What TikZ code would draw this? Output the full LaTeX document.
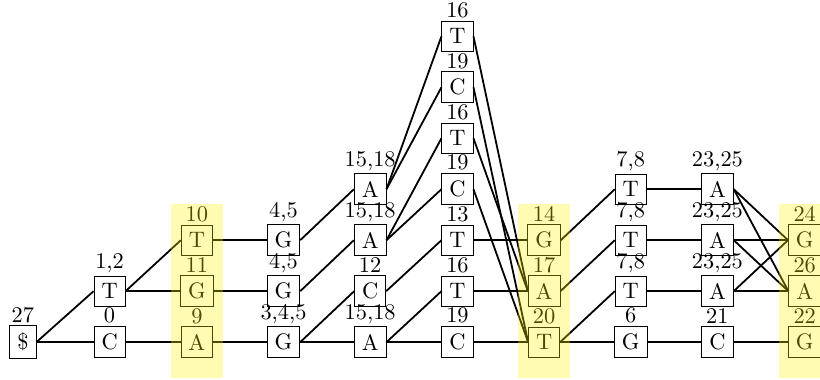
\documentclass[tikz,border=0pt]{standalone}
\usetikzlibrary{positioning}
\tikzset{
  chr/.style={draw, rectangle},
  edge/.style={thick},
  band/.style={fill=yellow, opacity=0.3},
  every label/.style={inner sep=1pt, label distance=0pt}
}
\begin{document}
\begin{tikzpicture}
            \useasboundingbox (-0.36,-0.58) rectangle (12.51,5.37);
            % column 0 and 1
            \node[chr, label=above:27] (a0) at (0,0) {\$};
            \node[chr, label=above:0] (b0) at (1.36,0) {C};
            \node[chr, label=above:{1,2}] (b1) at (1.36,0.8) {T};
            % column 2
            \node[chr, label=above:9] (c0) at (2.73,0) {A};
            \node[chr, label=above:11] (c1) at (2.73,0.8) {G};
            \node[chr, label=above:10] (c2) at (2.73,1.6) {T};
            % column 3
            \node[chr, label=above:{3,4,5}] (d0) at (4.09,0) {G};
            \node[chr, label=above:{4,5}] (d1) at (4.09,0.8) {G};
            \node[chr, label=above:{4,5}] (d2) at (4.09,1.6) {G};
            % column 4
            \node[chr, label=above:{15,18}] (e0) at (5.45,0) {A};
            \node[chr, label=above:12] (e1) at (5.45,0.8) {C};
            \node[chr, label=above:{15,18}] (e2) at (5.45,1.6) {A};
            \node[chr, label=above:{15,18}] (e3) at (5.45,2.4) {A};
            % column 5
            \node[chr, label=above:19] (f0) at (6.82,0) {C};
            \node[chr, label=above:16] (f1) at (6.82,0.8) {T};
            \node[chr, label=above:13] (f2) at (6.82,1.6) {T};
            \node[chr, label=above:19] (f3) at (6.82,2.4) {C};
            \node[chr, label=above:16] (f4) at (6.82,3.2) {T};
            \node[chr, label=above:19] (f5) at (6.82,4.0) {C};
            \node[chr, label=above:16] (f6) at (6.82,4.8) {T};
            % column 6
            \node[chr, label=above:20] (g0) at (8.18,0) {T};
            \node[chr, label=above:17] (g1) at (8.18,0.8) {A};
            \node[chr, label=above:14] (g2) at (8.18,1.6) {G};
            % column 7
            \node[chr, label=above:6] (h0) at (9.54,0) {G};
            \node[chr, label=above:{7,8}] (h1) at (9.54,0.8) {T};
            \node[chr, label=above:{7,8}] (h2) at (9.54,1.6) {T};
            \node[chr, label=above:{7,8}] (h3) at (9.54,2.4) {T};
            % column 8
            \node[chr, label=above:21] (i0) at (10.9,0) {C};
            \node[chr, label=above:{23,25}] (i1) at (10.9,0.8) {A};
            \node[chr, label=above:{23,25}] (i2) at (10.9,1.6) {A};
            \node[chr, label=above:{23,25}] (i3) at (10.9,2.4) {A};
            % column 9
            \node[chr, label=above:22] (j0) at (12.27,0) {G};
            \node[chr, label=above:26] (j1) at (12.27,0.8) {A};
            \node[chr, label=above:24] (j2) at (12.27,1.6) {G};
            % edges
            \draw[edge] (a0.east) -- (b0.west);
            \draw[edge] (a0.east) -- (b1.west);
            \draw[edge] (b0.east) -- (c0.west);
            \draw[edge] (b1.east) -- (c1.west);
            \draw[edge] (b1.east) -- (c2.west);
            \draw[edge] (c0.east) -- (d0.west);
            \draw[edge] (c1.east) -- (d1.west);
            \draw[edge] (c2.east) -- (d2.west);
            \draw[edge] (d0.east) -- (e0.west);
            \draw[edge] (d0.east) -- (e1.west);
            \draw[edge] (d1.east) -- (e2.west);
            \draw[edge] (d2.east) -- (e3.west);
            \draw[edge] (e0.east) -- (f0.west);
            \draw[edge] (e0.east) -- (f1.west);
            \draw[edge] (e1.east) -- (f2.west);
            \draw[edge] (e2.east) -- (f3.west);
            \draw[edge] (e2.east) -- (f4.west);
            \draw[edge] (e3.east) -- (f5.west);
            \draw[edge] (e3.east) -- (f6.west);
            \draw[edge] (f0.east) -- (g0.west);
            \draw[edge] (f1.east) -- (g1.west);
            \draw[edge] (f2.east) -- (g2.west);
            \draw[edge] (f3.east) -- (g0.west);
            \draw[edge] (f4.east) -- (g1.west);
            \draw[edge] (f5.east) -- (g0.west);
            \draw[edge] (f6.east) -- (g1.west);
            \draw[edge] (g0.east) -- (h0.west);
            \draw[edge] (g0.east) -- (h1.west);
            \draw[edge] (g1.east) -- (h2.west);
            \draw[edge] (g2.east) -- (h3.west);
            \draw[edge] (h0.east) -- (i0.west);
            \draw[edge] (h1.east) -- (i1.west);
            \draw[edge] (h2.east) -- (i2.west);
            \draw[edge] (h3.east) -- (i3.west);
            \draw[edge] (i0.east) -- (j0.west);
            \draw[edge] (i1.east) -- (j1.west);
            \draw[edge] (i1.east) -- (j2.west);
            \draw[edge] (i2.east) -- (j2.west);
            \draw[edge] (i2.east) -- (j1.west);
            \draw[edge] (i3.east) -- (j2.west);
            \draw[edge] (i3.east) -- (j1.west);
            % highlighted columns
            \fill[band] (2.32,-0.565) rectangle (3.14,2.165);
            \fill[band] (7.77,-0.565) rectangle (8.59,2.165);
            \fill[band] (11.86,-0.565) rectangle (12.68,2.165);
\end{tikzpicture}
\end{document}
